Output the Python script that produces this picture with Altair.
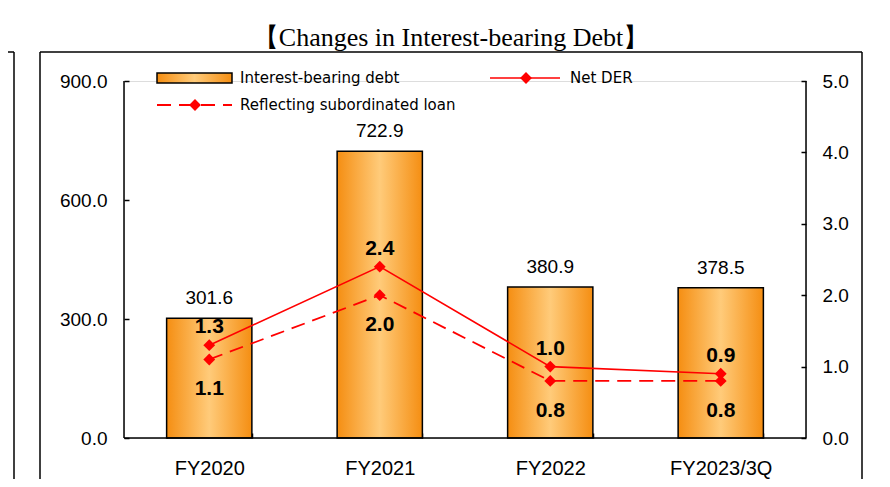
import altair as alt
import pandas as pd

categories = ["FY2020", "FY2021", "FY2022", "FY2023/3Q"]
debt = [301.6, 722.9, 380.9, 378.5]
net_der = [1.3, 2.4, 1.0, 0.9]
sub_der = [1.1, 2.0, 0.8, 0.8]
left_ticks = [0, 300, 600, 900]
right_ticks = [0, 1, 2, 3, 4, 5]

df = pd.DataFrame({"category": categories, "debt": debt, "net": net_der, "sub": sub_der})
one = pd.DataFrame({"a": [0]})

W, H = 682, 357
FONT = "Liberation Sans"
LFONT = "DejaVu Sans"
RED = "#FF0000"

grad = alt.Gradient(
    gradient="linear",
    stops=[
        alt.GradientStop(color="#F58E12", offset=0),
        alt.GradientStop(color="#FFCB7A", offset=0.5),
        alt.GradientStop(color="#F58E12", offset=1),
    ],
    x1=0, x2=1, y1=0, y2=0,
)

x = alt.X(
    "category:N", sort=categories,
    scale=alt.Scale(paddingInner=0.5, paddingOuter=0.25),
    axis=alt.Axis(title=None, labelAngle=0, labelFontSize=20, labelFont=FONT, labelColor="black",
                  tickBand="extent", tickSize=5, tickColor="black", tickWidth=1.5,
                  offset=-5, domain=False, labelPadding=20),
)

y_debt_scale = alt.Scale(domain=[0, 900], nice=False, zero=True)
y_der_scale = alt.Scale(domain=[0, 5], nice=False, zero=True)

bars = alt.Chart(df).mark_bar(color=grad, stroke="black", strokeWidth=1.5).encode(
    x=x,
    y=alt.Y("debt:Q", scale=y_debt_scale,
            axis=alt.Axis(values=left_ticks, format=".1f", title=None, orient="left", offset=-5,
                          tickSize=5, tickColor="black", tickWidth=1.5, domain=False, grid=False,
                          labelPadding=17, labelFontSize=19, labelFont=FONT, labelColor="black")),
)

bar_labels = alt.Chart(df).mark_text(dy=-20, fontSize=19, font=FONT, color="black").encode(
    x=x,
    y=alt.Y("debt:Q", scale=y_debt_scale, axis=None),
    text=alt.Text("debt:Q", format=".1f"),
)

y_net = alt.Y("net:Q", scale=y_der_scale,
              axis=alt.Axis(values=right_ticks, format=".1f", title=None, orient="right", offset=-5,
                            tickSize=5, tickColor="black", tickWidth=1.5, domain=False, grid=False,
                            labelPadding=16, labelFontSize=19, labelFont=FONT, labelColor="black"))
y_sub = alt.Y("sub:Q", scale=y_der_scale, axis=None)

net_line = alt.Chart(df).mark_line(color=RED, strokeWidth=1.6).encode(x=x, y=y_net)
net_pts = alt.Chart(df).mark_point(shape="diamond", filled=True, size=140, color=RED, opacity=1).encode(
    x=x, y=alt.Y("net:Q", scale=y_der_scale, axis=None))
net_txt = alt.Chart(df).mark_text(dy=-18, fontSize=21, fontWeight="bold", font=FONT, color="black").encode(
    x=x, y=alt.Y("net:Q", scale=y_der_scale, axis=None), text=alt.Text("net:Q", format=".1f"))

sub_line = alt.Chart(df).mark_line(color=RED, strokeWidth=1.8, strokeDash=[14, 8]).encode(x=x, y=y_sub)
sub_pts = alt.Chart(df).mark_point(shape="diamond", filled=True, size=140, color=RED, opacity=1).encode(
    x=x, y=y_sub)
sub_txt = alt.Chart(df).mark_text(dy=30, fontSize=21, fontWeight="bold", font=FONT, color="black").encode(
    x=x, y=y_sub, text=alt.Text("sub:Q", format=".1f"))

# axis lines
left_dom = alt.Chart(one).mark_rule(color="black", strokeWidth=1.5).encode(
    x=alt.value(0), y=alt.value(0), y2=alt.value(H))
right_dom = alt.Chart(one).mark_rule(color="black", strokeWidth=1.5).encode(
    x=alt.value(W), y=alt.value(0), y2=alt.value(H))
bottom_dom = alt.Chart(one).mark_rule(color="black", strokeWidth=1.5).encode(
    x=alt.value(0), x2=alt.value(W), y=alt.value(H))

# frame decorations
frame_l = alt.Chart(one).mark_rule(color="black", strokeWidth=1.5).encode(
    x=alt.value(-84), y=alt.value(-29), y2=alt.value(420))
frame_r = alt.Chart(one).mark_rule(color="black", strokeWidth=1.5).encode(
    x=alt.value(738), y=alt.value(-29), y2=alt.value(420))
frame_t = alt.Chart(one).mark_rule(color="black", strokeWidth=1.5).encode(
    x=alt.value(-84), x2=alt.value(738), y=alt.value(-29))
side_v = alt.Chart(one).mark_rule(color="black", strokeWidth=1.5).encode(
    x=alt.value(-110), y=alt.value(-29), y2=alt.value(420))
side_t = alt.Chart(one).mark_rule(color="black", strokeWidth=1.5).encode(
    x=alt.value(-120), x2=alt.value(-110), y=alt.value(-29))

title = alt.Chart(one).mark_text(text="【Changes in Interest-bearing Debt】", fontSize=26,
                                 font="Liberation Serif", color="black").encode(
    x=alt.value(327), y=alt.value(-43))

# legend
leg_rect = alt.Chart(one).mark_rect(color=grad, stroke="black", strokeWidth=1.5).encode(
    x=alt.value(33), x2=alt.value(108), y=alt.value(-8), y2=alt.value(2))
leg_t1 = alt.Chart(one).mark_text(text="Interest-bearing debt", fontSize=15, font=LFONT, align="left",
                                  color="black").encode(x=alt.value(116), y=alt.value(-3))
leg_net_line = alt.Chart(one).mark_rule(color=RED, strokeWidth=1.6).encode(
    x=alt.value(366), x2=alt.value(436), y=alt.value(-3))
leg_net_pt = alt.Chart(one).mark_point(shape="diamond", filled=True, size=140, color=RED, opacity=1).encode(
    x=alt.value(402), y=alt.value(-3))
leg_t2 = alt.Chart(one).mark_text(text="Net DER", fontSize=15, font=LFONT, align="left",
                                  color="black").encode(x=alt.value(446), y=alt.value(-3))
leg_sub_line = alt.Chart(one).mark_rule(color=RED, strokeWidth=1.8, strokeDash=[14, 8]).encode(
    x=alt.value(33), x2=alt.value(108), y=alt.value(24))
leg_sub_pt = alt.Chart(one).mark_point(shape="diamond", filled=True, size=140, color=RED, opacity=1).encode(
    x=alt.value(71), y=alt.value(24))
leg_t3 = alt.Chart(one).mark_text(text="Reflecting subordinated loan", fontSize=15, font=LFONT, align="left",
                                  color="black").encode(x=alt.value(116), y=alt.value(24))

chart = alt.layer(
    frame_l, frame_r, frame_t, side_v, side_t, title,
    bars, bar_labels,
    net_line, sub_line, net_pts, sub_pts, net_txt, sub_txt,
    left_dom, right_dom, bottom_dom,
    leg_rect, leg_t1, leg_net_line, leg_net_pt, leg_t2, leg_sub_line, leg_sub_pt, leg_t3,
).resolve_scale(y="independent").properties(
    width=W, height=H,
    padding={"left": 116, "top": 73, "right": 76, "bottom": 41},
    autosize=alt.AutoSizeParams(type="none"),
).configure_view(stroke=None).configure(background="white")

chart.save("out.html", embed_options={"renderer": "svg", "actions": False})
